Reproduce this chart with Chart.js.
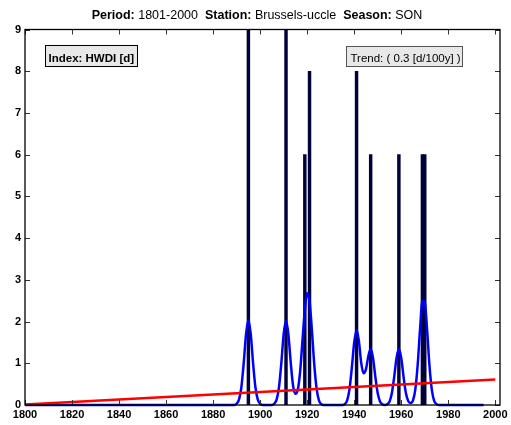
<!DOCTYPE html>
<html>
<head>
<meta charset="utf-8">
<script src="https://cdn.jsdelivr.net/npm/chart.js@4.4.0/dist/chart.umd.min.js"></script>
<style>
  html, body { margin: 0; padding: 0; background: #fff; }
  #graphique-hwdi { display: block; }
</style>
</head>
<body>
<canvas id="graphique-hwdi" width="511" height="425"></canvas>
<script>
// Valeurs annuelles de l'indice (barres)
const anneesBarres = [1895, 1911, 1919, 1921, 1941, 1947, 1959, 1969, 1970]
const valeursBarres = [9, 9, 6, 8, 8, 6, 6, 6, 6]

// Courbe lissée (bleue)
const anneesLisse = [1800, 1889, 1890, 1891, 1892, 1893, 1894, 1895, 1896, 1897, 1898, 1899, 1900, 1901,
    1905, 1906, 1907, 1908, 1909, 1910, 1911, 1912, 1913, 1914, 1915, 1916, 1917, 1918, 1919, 1920,
    1921, 1922, 1923, 1924, 1925, 1926, 1927, 1935, 1936, 1937, 1938, 1939, 1940, 1941, 1942, 1943,
    1944, 1945, 1946, 1947, 1948, 1949, 1950, 1951, 1952, 1953, 1954, 1955, 1956, 1957, 1958, 1959,
    1960, 1961, 1962, 1963, 1964, 1965, 1966, 1967, 1968, 1969, 1970, 1971, 1972, 1973, 1974, 1975,
    1976, 1995]
const valeursLisse = [0, 0, 0.03, 0.13, 0.42, 1.00, 1.70, 2.03, 1.70, 1.00, 0.42, 0.13, 0.03, 0,
    0, 0.03, 0.13, 0.42, 1.00, 1.70, 2.02, 1.70, 1.02, 0.46, 0.27, 0.36, 0.80, 1.55, 2.28, 2.68,
    2.48, 1.80, 0.98, 0.40, 0.11, 0.02, 0, 0, 0.02, 0.11, 0.38, 0.90, 1.50, 1.80, 1.53, 1.00,
    0.76, 0.86, 1.17, 1.34, 1.13, 0.67, 0.28, 0.08, 0.02, 0, 0.02, 0.08, 0.28, 0.67, 1.13, 1.34,
    1.13, 0.67, 0.28, 0.09, 0.05, 0.11, 0.38, 0.97, 1.82, 2.50, 2.46, 1.80, 0.95, 0.37, 0.10, 0.02,
    0, 0]

// Tendance linéaire (rouge)
const anneesTendance = [1800, 2000]
const valeursTendance = [0.01, 0.61]

const ticksX = [1800, 1820, 1840, 1860, 1880, 1900, 1920, 1940, 1960, 1980, 2000]
const ticksY = [0, 1, 2, 3, 4, 5, 6, 7, 8, 9]

const titre = [["Period:", true], [" 1801-2000  ", false], ["Station:", true],
    [" Brussels-uccle  ", false], ["Season:", true], [" SON", false]]
const texteIndex = "Index: HWDI [d]"
const texteTendance = "Trend: ( 0.3 [d/100y] )"

const police = '"Liberation Sans", Arial, Helvetica, sans-serif'

const enPoints = (xs, ys) => xs.map((x, i) => ({ x: x, y: ys[i] }))

const cadrePlugin = {
    id: "cadre",
    afterDraw(chart) {
        const ctx = chart.ctx
        const a = chart.chartArea
        const sx = chart.scales.x
        const sy = chart.scales.y
        ctx.save()

        // graduations vers l'intérieur
        ctx.strokeStyle = "#333"
        ctx.lineWidth = 1
        ctx.beginPath()
        for (const v of ticksX) {
            const px = Math.round(sx.getPixelForValue(v)) + 0.5
            ctx.moveTo(px, a.bottom); ctx.lineTo(px, a.bottom - 5)
            ctx.moveTo(px, a.top); ctx.lineTo(px, a.top + 5)
        }
        for (const v of ticksY) {
            const py = Math.round(sy.getPixelForValue(v)) + 0.5
            ctx.moveTo(a.left, py); ctx.lineTo(a.left + 5, py)
            ctx.moveTo(a.right, py); ctx.lineTo(a.right - 5, py)
        }
        ctx.stroke()

        // cadre
        ctx.strokeStyle = "#000"
        ctx.lineWidth = 1.3
        ctx.strokeRect(a.left, a.top, a.right - a.left, a.bottom - a.top)

        // titre
        ctx.fillStyle = "#000"
        ctx.textBaseline = "alphabetic"
        ctx.textAlign = "left"
        let largeur = 0
        for (const [t, gras] of titre) {
            ctx.font = (gras ? "bold " : "") + "12.5px " + police
            largeur += ctx.measureText(t).width
        }
        let x = 257 - largeur / 2
        for (const [t, gras] of titre) {
            ctx.font = (gras ? "bold " : "") + "12.5px " + police
            ctx.fillText(t, x, 19)
            x += ctx.measureText(t).width
        }

        // encadrés
        ctx.fillStyle = "#e8e8e8"
        ctx.fillRect(45.5, 45.5, 92, 21)
        ctx.strokeStyle = "#000"
        ctx.lineWidth = 1
        ctx.strokeRect(45.5, 45.5, 92, 21)
        ctx.fillStyle = "#000"
        ctx.font = "bold 11.5px " + police
        ctx.fillText(texteIndex, 48.5, 61.5)

        ctx.fillStyle = "#e8e8e8"
        ctx.fillRect(346.5, 46.5, 116, 20)
        ctx.strokeStyle = "#555"
        ctx.strokeRect(346.5, 46.5, 116, 20)
        ctx.fillStyle = "#000"
        ctx.font = "11.5px " + police
        ctx.fillText(texteTendance, 350.5, 61.5)

        ctx.restore()
    }
}

const data = {
    datasets: [
        {
            type: "line",
            data: enPoints(anneesTendance, valeursTendance),
            borderColor: "#ff0000",
            borderWidth: 2.5,
            pointRadius: 0,
            clip: { left: 0, top: 0, right: 0, bottom: 4 },
            order: 1
        },
        {
            type: "line",
            data: enPoints(anneesLisse, valeursLisse),
            borderColor: "#0000ff",
            borderWidth: 2.5,
            pointRadius: 0,
            cubicInterpolationMode: "monotone",
            clip: { left: 0, top: 0, right: 0, bottom: 4 },
            order: 2
        },
        {
            type: "bar",
            data: enPoints(anneesBarres, valeursBarres),
            backgroundColor: "#00003a",
            borderWidth: 0,
            barThickness: 2.8,
            order: 3
        }
    ]
}

const config = {
    type: "bar",
    data: data,
    options: {
        responsive: false,
        animation: false,
        devicePixelRatio: 1,
        layout: { padding: { left: 0, right: 11, top: 29.5, bottom: 0 } },
        plugins: {
            legend: { display: false },
            tooltip: { enabled: false }
        },
        scales: {
            x: {
                type: "linear",
                offset: false,
                min: 1800,
                max: 2002,
                afterBuildTicks: (s) => { s.ticks = ticksX.map(v => ({ value: v })) },
                afterFit: (s) => { s.height = 20 },
                grid: { display: false, drawTicks: false, offset: false },
                border: { display: false },
                ticks: {
                    color: "#000",
                    padding: 3,
                    maxRotation: 0,
                    autoSkip: false,
                    callback: (v) => String(v),
                    font: { family: police, size: 11, weight: "bold" }
                }
            },
            y: {
                min: 0,
                max: 9,
                afterBuildTicks: (s) => { s.ticks = ticksY.map(v => ({ value: v })) },
                afterFit: (s) => { s.width = 25 },
                grid: { display: false, drawTicks: false },
                border: { display: false },
                ticks: {
                    color: "#000",
                    padding: 4,
                    font: { family: police, size: 11, weight: "bold" }
                }
            }
        }
    },
    plugins: [cadrePlugin]
}

const graphiqueHwdi = new Chart(document.querySelector("#graphique-hwdi"), config)
</script>
</body>
</html>
